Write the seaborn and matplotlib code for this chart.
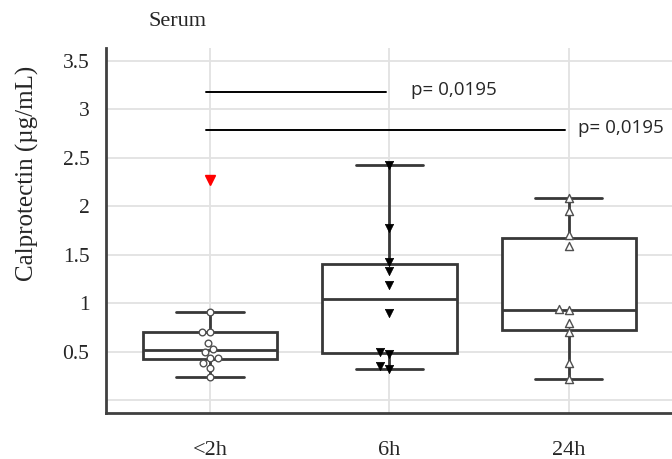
import numpy as np
import pandas as pd
import matplotlib
matplotlib.use("Agg")
import matplotlib.pyplot as plt
import seaborn as sns

# Serum calprotectin (µg/mL) per sampling time
groups = ["<2h", "6h", "24h"]
serum_lt2h = [0.245, 0.335, 0.38, 0.435, 0.44, 0.50, 0.53, 0.596, 0.709, 0.709, 0.909, 2.27]
serum_6h = [0.32, 0.35, 0.48, 0.50, 0.90, 1.19, 1.33, 1.43, 1.78, 2.42]
serum_24h = [0.22, 0.38, 0.70, 0.80, 0.93, 0.94, 1.59, 1.70, 1.95, 2.08]

# pairwise comparisons against the first time point
comparisons = [("<2h", "6h"), ("<2h", "24h")]
p_values = ["0,0195", "0,0195"]

y_ticks = [0, 0.5, 1, 1.5, 2, 2.5, 3, 3.5]
y_tick_labels = ["", "0.5", "1", "1.5", "2", "2.5", "3", "3.5"]

sns.set_style("white")
plt.rcParams["font.family"] = ["Liberation Serif", "DejaVu Serif"]

series = {"<2h": serum_lt2h, "6h": serum_6h, "24h": serum_24h}
df = pd.DataFrame(
    [(g, v) for g in groups for v in series[g]], columns=["time", "value"]
)

fig = plt.figure(figsize=(6.72, 4.59), dpi=100)
ax = fig.add_axes([106 / 672, 46 / 459, 1 - 106 / 672, 365 / 459])

edge = "#383838"
sns.boxplot(
    data=df, x="time", y="value", order=groups, ax=ax,
    width=0.75, color="white", linecolor=edge, linewidth=2.0,
    flierprops=dict(marker="v", markerfacecolor="red",
                    markeredgecolor="red", markersize=6.5),
)


def inliers(vals):
    v = np.asarray(vals)
    q1, q3 = np.percentile(v, [25, 75])
    iqr = q3 - q1
    return v[(v >= q1 - 1.5 * iqr) & (v <= q3 + 1.5 * iqr)]


styles = {
    "<2h": dict(marker="o", color="white", edgecolor="#505050", linewidth=1.0, size=4.8),
    "6h": dict(marker="v", color="black", edgecolor="black", linewidth=0.5, size=6.0),
    "24h": dict(marker="^", color="white", edgecolor="#505050", linewidth=1.0, size=5.8),
}
n_before = len(ax.collections)
for g in groups:
    vals = inliers(series[g])
    sns.swarmplot(x=[g] * len(vals), y=vals, order=groups, ax=ax, **styles[g])
for coll in ax.collections[n_before:]:
    coll.set_zorder(4)

# significance bars
bar_heights = [3.18, 2.79]
text_offsets = [0.12, 0.05]
for (a, b), p, h, dx in zip(comparisons, p_values, bar_heights, text_offsets):
    xa, xb = groups.index(a), groups.index(b)
    ax.plot([xa - 0.02, xb - 0.02], [h, h], color="black", lw=1.4, zorder=5)
    ax.text(xb + dx, h + 0.02, f"p= {p}",
            family="Open Sans", fontsize=13.5, va="center", ha="left")

ax.set_xlim(-0.58, 2.575)
ax.set_ylim(-0.13, 3.63)
ax.set_yticks(y_ticks)
ax.set_yticklabels(y_tick_labels)
ax.grid(True, color="#e2e2e2", lw=1.3)
ax.set_axisbelow(True)

for s in ["top", "right"]:
    ax.spines[s].set_visible(False)
for s in ["left", "bottom"]:
    ax.spines[s].set_color("#404040")
    ax.spines[s].set_linewidth(2.0)

ax.tick_params(axis="y", direction="in", length=8, width=1.3, color="#505050",
               labelsize=15.5, pad=12)
ax.tick_params(axis="x", direction="in", length=7, width=1.3, color="#505050",
               labelsize=16, pad=20)

ax.set_xlabel("")
ax.set_ylabel("Calprotectin (µg/mL)", fontsize=18, va="center")
ax.yaxis.set_label_coords(-0.138, 0.657)

fig.text(148 / 672, 1 - 21 / 459, "Serum", fontsize=16, va="center", ha="left")

fig.savefig("out.png", dpi=100)
